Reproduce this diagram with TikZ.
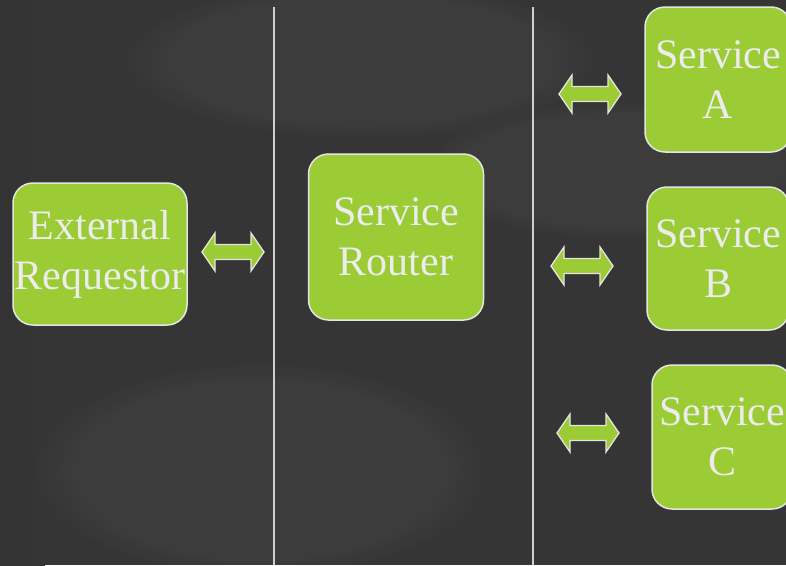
\documentclass[tikz,border=0pt]{standalone}
\usepackage{fontspec}
\setmainfont{Liberation Serif}
\usetikzlibrary{fadings}
\definecolor{boxgreen}{HTML}{9BCB35}
\definecolor{boxline}{HTML}{E4E4E4}
\definecolor{textgray}{HTML}{ECECEC}
\definecolor{bgbase}{HTML}{353535}
\definecolor{divider}{HTML}{CFCFCF}
\tikzset{
  tile/.style={draw=boxline, line width=1.5pt, fill=boxgreen, rounded corners=20pt,
    text=textgray, align=center, inner sep=0pt,
    font=\fontsize{42}{50}\selectfont},
  flowarrow/.style={draw=boxline, line width=1.3pt, fill=boxgreen, line join=miter},
  haze/.style={opacity=0.035, path fading=circle with fuzzy edge 20 percent},
  pics/dblarrow/.style={code={
    \draw[flowarrow] (-31,0) -- (-18,-19) -- (-18,-7.5) -- (18,-7.5) -- (18,-19)
      -- (31,0) -- (18,19) -- (18,7.5) -- (-18,7.5) -- (-18,19) -- cycle;
  }}
}
\begin{document}
\begin{tikzpicture}[x=1pt,y=-1pt]
  % backdrop
  \useasboundingbox (0,0) rectangle (786,565);
  \clip (0,0) rectangle (786,565);
  \fill[bgbase] (0,0) rectangle (786,565);
  \shade[left color=black!80, right color=bgbase] (0,-5) rectangle (45,570);
  \fill[white, haze] (360,60) ellipse (240 and 80);
  \fill[white, haze] (620,170) ellipse (200 and 70);
  \fill[white, haze] (260,470) ellipse (230 and 110);

  % column dividers
  \coordinate (d1top) at (274,7);
  \coordinate (d1bot) at (274,565);
  \coordinate (d2top) at (533,7);
  \coordinate (d2bot) at (533,565);
  \draw[divider, line width=1.2pt] (d1top) -- (d1bot);
  \draw[divider, line width=1.2pt] (d2top) -- (d2bot);

  % boxes
  \node[tile, minimum width=174pt, minimum height=142pt] (ext) at (100,254) {External\\Requestor};
  \node[tile, minimum width=175pt, minimum height=166pt] (router) at (396,237) {Service\\Router};
  \node[tile, minimum width=146pt, minimum height=145pt] (svcA) at (718,79.5) {Service\\A};
  \node[tile, minimum width=142pt, minimum height=143pt] (svcB) at (718,258.5) {Service\\B};
  \node[tile, minimum width=140pt, minimum height=144pt] (svcC) at (722,437) {Service\\C};

  % two-way arrows
  \pic (arrExt) at (233,252) {dblarrow};
  \pic (arrA) at (590,94) {dblarrow};
  \pic (arrB) at (582,266) {dblarrow};
  \pic (arrC) at (588,433) {dblarrow};
\end{tikzpicture}
\end{document}
